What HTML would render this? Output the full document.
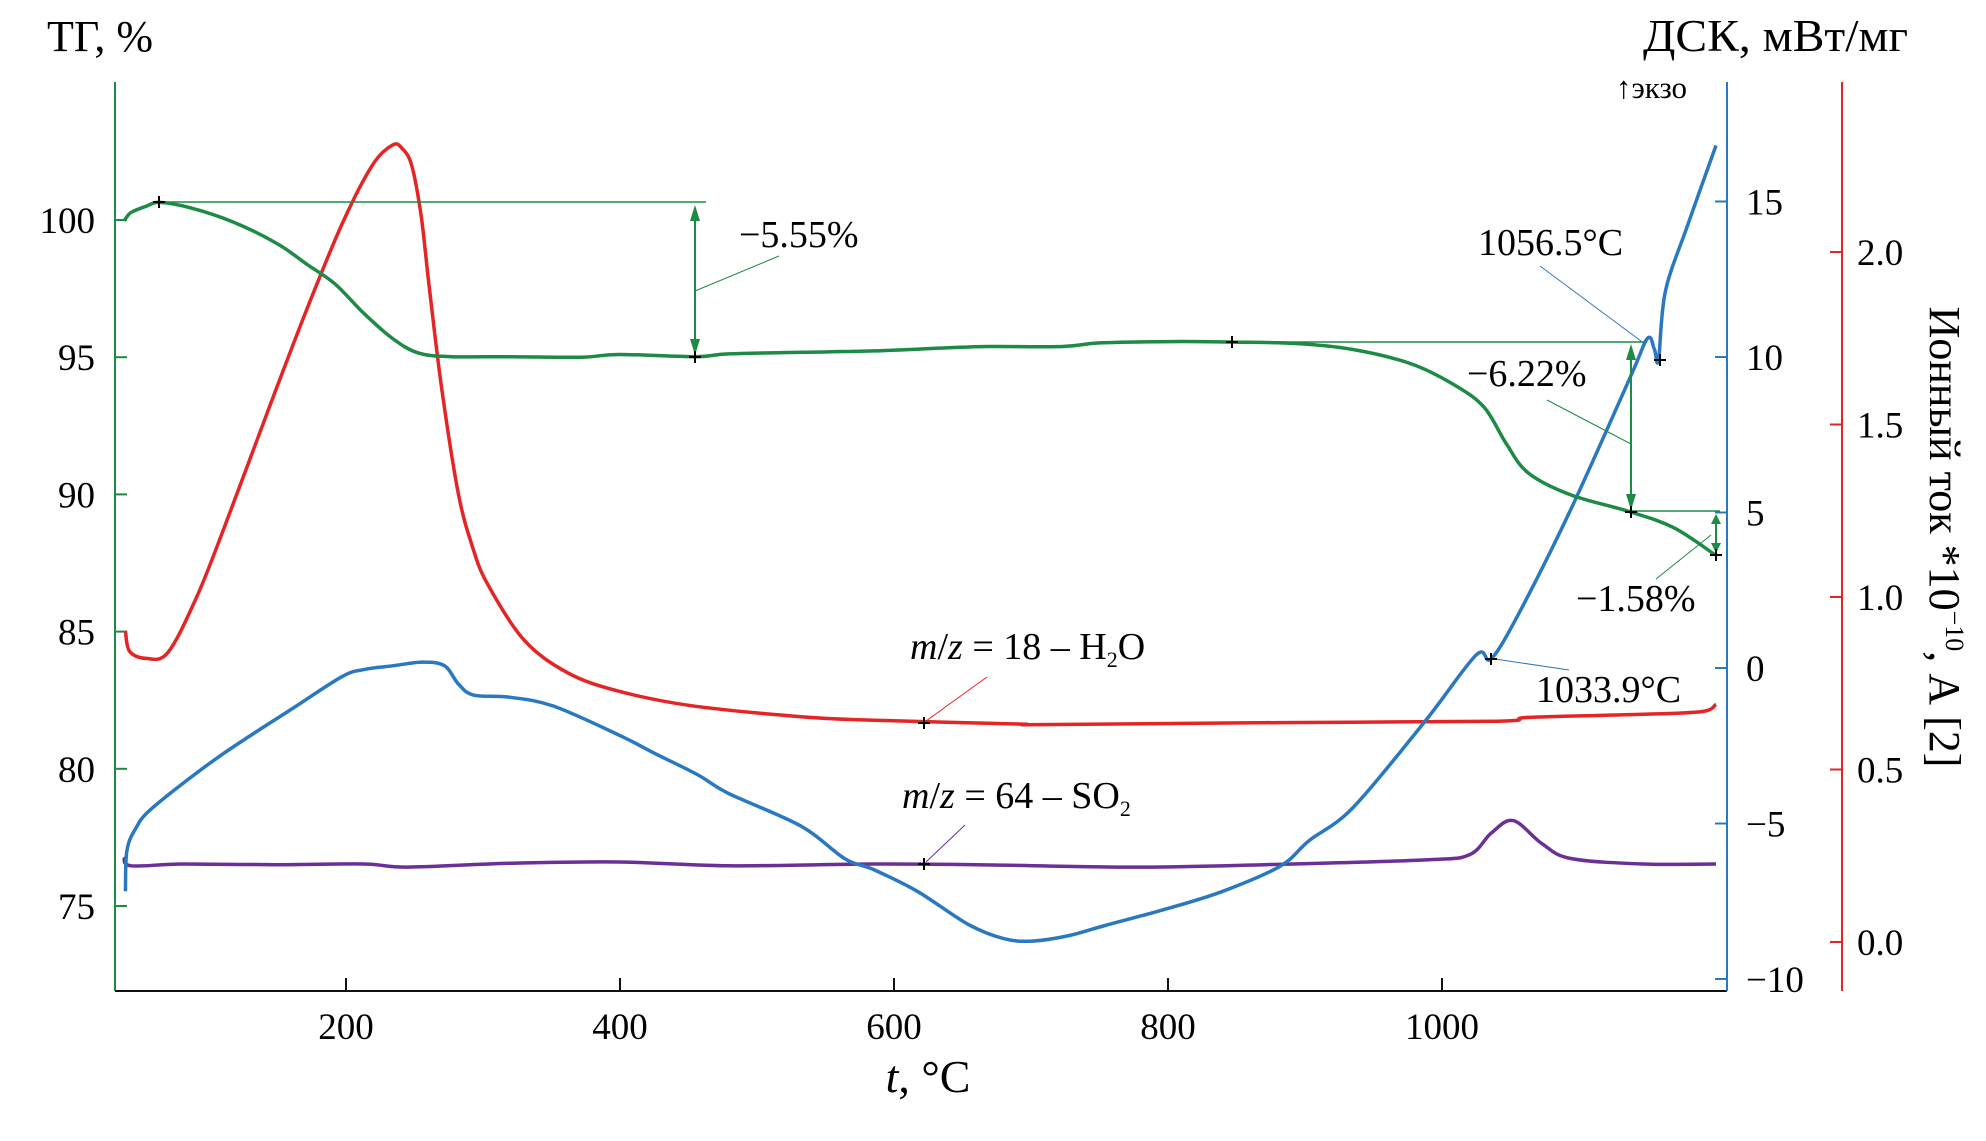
<!DOCTYPE html>
<html><head><meta charset="utf-8">
<style>
html,body{margin:0;padding:0;background:#fff;}
svg{display:block;font-family:"Liberation Serif",serif;}
</style></head>
<body>
<svg id="chart" width="1986" height="1141" viewBox="0 0 1986 1141" xmlns="http://www.w3.org/2000/svg">
<g id="axes"></g>
<g id="series"></g>
<g id="annot"></g>
<text x="47" y="51" font-size="44">ТГ, %</text>
<text x="1643" y="51" font-size="45" textLength="265" lengthAdjust="spacingAndGlyphs">ДСК, мВт/мг</text>
<text x="1616" y="98" font-size="31">↑экзо</text>
<text transform="translate(1930,537) rotate(90)" text-anchor="middle" font-size="44">Ионный ток *10<tspan font-size="26" dy="-16">−10</tspan><tspan dy="16">, А [2]</tspan></text>
<text x="928" y="1092" text-anchor="middle" font-size="46"><tspan font-style="italic">t</tspan>, °C</text>
</svg>
<script>
// ---- data ----
const xTicks = [200, 400, 600, 800, 1000];
const tgTicks = [100, 95, 90, 85, 80, 75];
const dscTicks = [15, 10, 5, 0, -5, -10];
const dscTickLabels = ["15", "10", "5", "0", "−5", "−10"];
const ionTicks = [2.0, 1.5, 1.0, 0.5, 0.0];
const ionTickLabels = ["2.0", "1.5", "1.0", "0.5", "0.0"];

const tgT = [38,43,54,64,86,118,150,171,192,213,234,253,277,319,372,399,455,479,532,585,638,670,723,750,803,846,893,935,978,1010,1031,1047,1063,1094,1137,1169,1199];
const tgV = [99.97,100.27,100.5,100.64,100.45,99.92,99.13,98.4,97.67,96.6,95.68,95.15,95.02,95.02,95.0,95.1,95.02,95.12,95.18,95.23,95.34,95.39,95.39,95.52,95.57,95.55,95.5,95.28,94.75,93.96,93.16,91.84,90.78,89.98,89.37,88.79,87.81];

const dscT = [39,40,46,59,107,160,197,213,234,256,272,282,293,319,351,399,425,457,479,532,564,585,617,654,680,701,728,754,797,840,882,903,935,988,1025,1036,1057,1094,1137,1150,1155,1158,1163,1179,1200];
const dscV = [-7.18,-5.9,-5.2,-4.49,-2.86,-1.33,-0.28,-0.05,0.07,0.19,0.07,-0.51,-0.87,-0.94,-1.22,-2.15,-2.74,-3.44,-4.03,-5.08,-6.13,-6.48,-7.18,-8.24,-8.7,-8.78,-8.6,-8.28,-7.77,-7.18,-6.37,-5.55,-4.49,-1.69,0.42,0.3,1.83,5.1,9.31,10.6,10.25,9.9,12.1,14.2,16.8];

const h2oT = [39,42,54,70,91,112,144,171,197,219,234,241,248,255,261,270,282,292,303,330,362,399,452,532,585,691,707,882,1041,1063,1147,1190,1200];
const h2oV = [0.902,0.843,0.822,0.839,1.0,1.21,1.55,1.83,2.08,2.25,2.31,2.3,2.25,2.1,1.89,1.6,1.3,1.15,1.04,0.875,0.78,0.727,0.685,0.653,0.643,0.632,0.63,0.636,0.64,0.651,0.66,0.668,0.689];

const so2T = [38,43,81,150,213,245,319,399,479,585,660,776,870,988,1020,1036,1052,1073,1094,1147,1200];
const so2V = [0.247,0.221,0.226,0.224,0.226,0.217,0.228,0.232,0.221,0.226,0.224,0.217,0.224,0.238,0.253,0.316,0.352,0.285,0.242,0.226,0.226];

// ---- scales ----
const X = t => 346 + (t - 200) * 1.37;
const YTG = v => 220 + (100 - v) * 27.44;
const YD = d => 668 - d * 31.1;
const YI = r => 942 - r * 345;
const NS = "http://www.w3.org/2000/svg";
function mk(parent, tag, attrs) { const e = document.createElementNS(NS, tag); for (const k in attrs) e.setAttribute(k, attrs[k]); parent.appendChild(e); return e; }
const axes = document.getElementById('axes');
const series = document.getElementById('series');
const annot = document.getElementById('annot');
const GREEN = "#1d8b45", BLUE = "#2a78c0", RED = "#e52426", PURPLE = "#6b2f98";

let e;
e = mk(axes, 'line', {x1:115, y1:82, x2:115, y2:991, stroke:GREEN, 'stroke-width':2});
 
e = mk(axes, 'line', {x1:115, y1:991, x2:1727, y2:991, stroke:"#111", 'stroke-width':2});
 
e = mk(axes, 'line', {x1:1727, y1:82, x2:1727, y2:991, stroke:BLUE, 'stroke-width':2});
 
e = mk(axes, 'line', {x1:1842, y1:82, x2:1842, y2:991, stroke:RED, 'stroke-width':2});
 

xTicks.forEach(t => {
  e = mk(axes, 'line', {x1:X(t), y1:991, x2:X(t), y2:978, stroke:"#111", 'stroke-width':2});
   
  e = mk(axes, 'text', {x:X(t), y:1039, 'text-anchor':'middle', 'font-size':37});
  e.textContent = t;
   
});
tgTicks.forEach(v => {
  e = mk(axes, 'line', {x1:115, y1:YTG(v), x2:127, y2:YTG(v), stroke:GREEN, 'stroke-width':2});
   
  e = mk(axes, 'text', {x:95, y:YTG(v)+13, 'text-anchor':'end', 'font-size':37});
  e.textContent = v;
   
});
dscTicks.forEach((d, i) => {
  e = mk(axes, 'line', {x1:1715, y1:YD(d), x2:1727, y2:YD(d), stroke:BLUE, 'stroke-width':2});
   
  e = mk(axes, 'text', {x:1746, y:YD(d)+13, 'font-size':37});
  e.textContent = dscTickLabels[i];
   
});
ionTicks.forEach((r, i) => {
  e = mk(axes, 'line', {x1:1830, y1:YI(r), x2:1842, y2:YI(r), stroke:RED, 'stroke-width':2});
   
  e = mk(axes, 'text', {x:1857, y:YI(r)+13, 'font-size':37});
  e.textContent = ionTickLabels[i];
   
});

// smooth path (Catmull-Rom -> cubic Bezier)
function pathOf(ts, vs, ys) {
  const p = ts.map((t, i) => [X(t), ys(vs[i])]);
  let d = 'M' + p[0][0].toFixed(1) + ',' + p[0][1].toFixed(1);
  for (let i = 0; i < p.length - 1; i++) {
    const p0 = p[Math.max(0, i - 1)], p1 = p[i], p2 = p[i + 1], p3 = p[Math.min(p.length - 1, i + 2)];
    const c1x = p1[0] + (p2[0] - p0[0]) / 6, c1y = p1[1] + (p2[1] - p0[1]) / 6;
    const c2x = p2[0] - (p3[0] - p1[0]) / 6, c2y = p2[1] - (p3[1] - p1[1]) / 6;
    d += 'C' + c1x.toFixed(1) + ',' + c1y.toFixed(1) + ' ' + c2x.toFixed(1) + ',' + c2y.toFixed(1) + ' ' + p2[0].toFixed(1) + ',' + p2[1].toFixed(1);
  }
  return d;
}
e = mk(series, 'path', {d:pathOf(h2oT, h2oV, YI), fill:'none', stroke:RED, 'stroke-width':3.5, 'stroke-linejoin':'round'});
 
e = mk(series, 'path', {d:pathOf(so2T, so2V, YI), fill:'none', stroke:PURPLE, 'stroke-width':3.5, 'stroke-linejoin':'round'});
 
e = mk(series, 'path', {d:pathOf(dscT, dscV, YD), fill:'none', stroke:BLUE, 'stroke-width':3.5, 'stroke-linejoin':'round'});
 
e = mk(series, 'path', {d:pathOf(tgT, tgV, YTG), fill:'none', stroke:GREEN, 'stroke-width':3.5, 'stroke-linejoin':'round'});
 

function line(x1,y1,x2,y2,c,w,name){ e = mk(annot,'line',{x1,y1,x2,y2,stroke:c,'stroke-width':w});   }
function plus(x,y){ e = mk(annot,'path',{d:`M${x-6},${y}H${x+6}M${x},${y-6}V${y+6}`,stroke:'#000','stroke-width':2});   }
function darrow(x,y1,y2,h){ line(x,y1+4,x,y2-4,GREEN,2,'mass-loss-arrow');
  e = mk(annot,'path',{d:`M${x},${y1}l-5,${h}h10zM${x},${y2}l-5,${-h}h10z`,fill:GREEN});   }
function txt(x,y,s,name){ e = mk(annot,'text',{x,y,'font-size':38}); e.innerHTML = s;   }

line(159,202,706,202,GREEN,1.5,'tg-reference-line-1');
darrow(695,205,355,16);
line(779,256,695,291,GREEN,1,'leader-line');
plus(159,202); plus(695,357);
txt(739,247,'−5.55%','mass-loss-label-1');

line(1232,342,1646,342,GREEN,1.5,'tg-reference-line-2');
darrow(1631,344,510,16);
line(1631,511,1720,511,GREEN,1.5,'tg-reference-line-3');
line(1547,400,1631,444,GREEN,1,'leader-line');
plus(1232,342); plus(1631,512);
txt(1467,386,'−6.22%','mass-loss-label-2');

darrow(1716,514,553,10);
line(1656,579,1711,535,GREEN,1,'leader-line');
plus(1716,555);
txt(1576,611,'−1.58%','mass-loss-label-3');

line(1540,266,1645,344,BLUE,1,'leader-line');
plus(1660,360);
txt(1478,255,'1056.5°C','peak-temp-label-1');
line(1569,670,1495,659,BLUE,1,'leader-line');
plus(1491,659);
txt(1536,702,'1033.9°C','peak-temp-label-2');

line(987,677,926,721,RED,1,'leader-line');
plus(924,723);
txt(910,659,'<tspan font-style="italic">m</tspan>/<tspan font-style="italic">z</tspan> = 18 – H<tspan font-size="22" dy="8">2</tspan><tspan dy="-8">O</tspan>','h2o-series-label');
line(965,825,926,862,PURPLE,1,'leader-line');
plus(924,864);
txt(902,808,'<tspan font-style="italic">m</tspan>/<tspan font-style="italic">z</tspan> = 64 – SO<tspan font-size="22" dy="8">2</tspan>','so2-series-label');
</script>
</body></html>
